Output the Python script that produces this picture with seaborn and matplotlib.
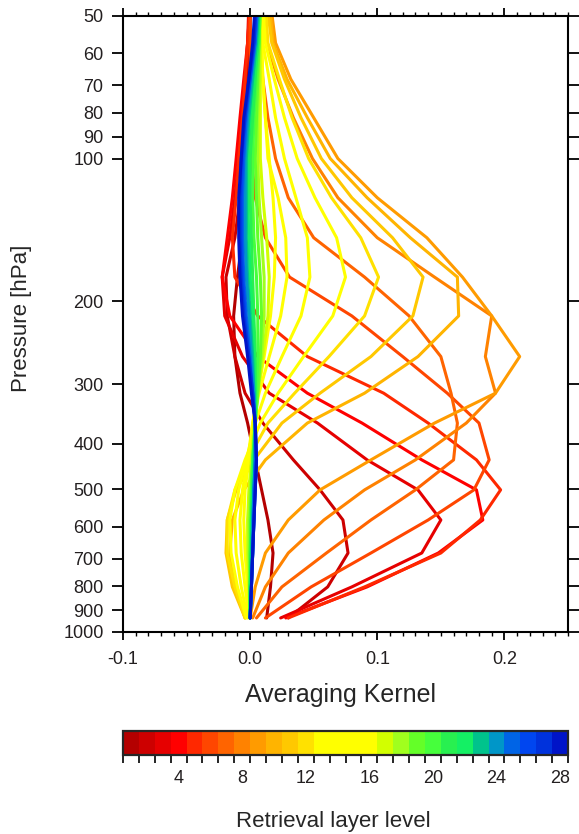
import numpy as np
import pandas as pd
import matplotlib
matplotlib.use("Agg")
import matplotlib.pyplot as plt
import seaborn as sns
from matplotlib.colors import ListedColormap, BoundaryNorm
from matplotlib.cm import ScalarMappable
from matplotlib.ticker import FixedLocator, FixedFormatter, NullLocator

# ---------------- data ----------------
pressure = [934, 803, 681, 580, 501, 433, 362, 313, 262, 215, 178, 147, 121, 100, 82, 68, 57, 47]

ak01 = [0.013, 0.016, 0.018, 0.014, 0.009, 0.004, -0.002, -0.008, -0.012, -0.013, -0.010, -0.006, -0.004, -0.003, -0.002, -0.001, 0.000, 0.000]
ak02 = [0.030, 0.061, 0.077, 0.073, 0.055, 0.034, 0.010, -0.004, -0.012, -0.018, -0.019, -0.012, -0.008, -0.005, -0.003, -0.002, -0.001, 0.000]
ak03 = [0.024, 0.080, 0.135, 0.150, 0.132, 0.092, 0.053, 0.015, -0.006, -0.020, -0.022, -0.016, -0.012, -0.009, -0.006, -0.004, -0.002, -0.001]
ak04 = [0.028, 0.092, 0.148, 0.183, 0.178, 0.135, 0.088, 0.045, 0.006, -0.016, -0.022, -0.018, -0.014, -0.011, -0.008, -0.005, -0.002, 0.000]
ak05 = [0.030, 0.090, 0.150, 0.181, 0.197, 0.178, 0.140, 0.105, 0.045, 0.006, -0.012, -0.014, -0.011, -0.009, -0.006, -0.004, -0.002, 0.000]
ak06 = [0.012, 0.048, 0.095, 0.140, 0.176, 0.188, 0.180, 0.155, 0.120, 0.080, 0.031, 0.012, 0.004, 0.001, 0.000, 0.000, 0.000, 0.000]
ak07 = [0.005, 0.025, 0.060, 0.095, 0.130, 0.160, 0.163, 0.158, 0.150, 0.125, 0.090, 0.050, 0.030, 0.020, 0.014, 0.010, 0.007, 0.006]
ak08 = [0.002, 0.012, 0.030, 0.058, 0.090, 0.130, 0.170, 0.193, 0.185, 0.190, 0.145, 0.100, 0.069, 0.049, 0.034, 0.022, 0.013, 0.010]
ak09 = [0.000, 0.004, 0.012, 0.030, 0.055, 0.095, 0.145, 0.193, 0.212, 0.190, 0.167, 0.139, 0.100, 0.069, 0.050, 0.032, 0.020, 0.016]
ak10 = [-0.004, -0.012, -0.016, -0.014, -0.005, 0.012, 0.045, 0.090, 0.132, 0.164, 0.163, 0.126, 0.092, 0.063, 0.045, 0.029, 0.018, 0.015]
ak11 = [-0.004, -0.014, -0.019, -0.018, -0.011, 0.003, 0.025, 0.055, 0.095, 0.128, 0.136, 0.112, 0.080, 0.056, 0.040, 0.027, 0.017, 0.013]
ak12 = [-0.004, -0.012, -0.018, -0.018, -0.012, -0.002, 0.014, 0.035, 0.062, 0.090, 0.101, 0.087, 0.064, 0.046, 0.033, 0.023, 0.014, 0.012]
ak13 = [-0.003, -0.010, -0.015, -0.016, -0.012, -0.004, 0.008, 0.022, 0.042, 0.065, 0.075, 0.068, 0.051, 0.037, 0.027, 0.019, 0.012, 0.010]
ak14 = [-0.002, -0.007, -0.011, -0.012, -0.009, -0.003, 0.004, 0.012, 0.025, 0.040, 0.047, 0.045, 0.036, 0.027, 0.020, 0.015, 0.010, 0.009]
ak15 = [-0.001, -0.004, -0.007, -0.008, -0.006, -0.002, 0.002, 0.007, 0.015, 0.024, 0.029, 0.028, 0.022, 0.014, 0.012, 0.010, 0.009, 0.008]
ak16 = [0.000, -0.002, -0.004, -0.005, -0.004, -0.001, 0.002, 0.006, 0.011, 0.016, 0.019, 0.020, 0.018, 0.015, 0.012, 0.010, 0.009, 0.008]
ak17 = [0.000, -0.001, -0.002, -0.002, -0.001, 0.001, 0.003, 0.006, 0.010, 0.014, 0.015, 0.013, 0.010, 0.008, 0.008, 0.008, 0.008, 0.008]
ak18 = [0.000, 0.000, -0.001, -0.001, 0.000, 0.002, 0.004, 0.006, 0.009, 0.011, 0.011, 0.009, 0.007, 0.006, 0.006, 0.007, 0.007, 0.008]
ak19 = [0.000, 0.000, 0.000, 0.000, 0.001, 0.002, 0.004, 0.006, 0.008, 0.009, 0.008, 0.006, 0.005, 0.004, 0.005, 0.006, 0.007, 0.008]
ak20 = [0.000, 0.000, 0.000, 0.001, 0.001, 0.002, 0.004, 0.005, 0.006, 0.006, 0.005, 0.003, 0.002, 0.002, 0.003, 0.005, 0.007, 0.008]
ak21 = [0.000, 0.000, 0.001, 0.001, 0.002, 0.003, 0.004, 0.004, 0.004, 0.003, 0.002, 0.001, 0.000, 0.000, 0.002, 0.004, 0.006, 0.007]
ak22 = [0.000, 0.000, 0.001, 0.001, 0.002, 0.003, 0.004, 0.004, 0.003, 0.002, 0.000, -0.001, -0.002, -0.002, 0.000, 0.003, 0.006, 0.007]
ak23 = [0.000, 0.001, 0.001, 0.002, 0.003, 0.004, 0.004, 0.003, 0.002, 0.000, -0.002, -0.003, -0.003, -0.003, -0.001, 0.002, 0.005, 0.007]
ak24 = [0.000, 0.001, 0.002, 0.002, 0.003, 0.004, 0.004, 0.003, 0.001, -0.001, -0.003, -0.004, -0.004, -0.004, -0.002, 0.001, 0.004, 0.006]
ak25 = [0.000, 0.001, 0.002, 0.003, 0.003, 0.004, 0.004, 0.002, 0.000, -0.003, -0.005, -0.006, -0.006, -0.005, -0.003, 0.000, 0.004, 0.006]
ak26 = [0.000, 0.001, 0.002, 0.003, 0.004, 0.005, 0.004, 0.002, -0.001, -0.004, -0.006, -0.007, -0.007, -0.006, -0.004, 0.000, 0.003, 0.005]
ak27 = [0.000, 0.001, 0.002, 0.003, 0.004, 0.005, 0.004, 0.002, -0.001, -0.005, -0.007, -0.008, -0.008, -0.007, -0.004, -0.001, 0.003, 0.005]
ak28 = [0.000, 0.001, 0.002, 0.003, 0.004, 0.005, 0.004, 0.001, -0.002, -0.006, -0.008, -0.009, -0.009, -0.007, -0.005, -0.001, 0.002, 0.004]

kernels = [ak01, ak02, ak03, ak04, ak05, ak06, ak07, ak08, ak09, ak10, ak11, ak12, ak13, ak14,
           ak15, ak16, ak17, ak18, ak19, ak20, ak21, ak22, ak23, ak24, ak25, ak26, ak27, ak28]
layers = list(range(1, 29))

layer_colors = ['#B40000', '#CD0000', '#E60000', '#FF0000', '#FF2800', '#FF4600', '#FF6400',
                '#FF8200', '#FF9B00', '#FFB400', '#FFC800', '#FFE100', '#FFFF00', '#FFFF00',
                '#FFFF00', '#FFFF00', '#D2FF00', '#A0FF1E', '#64FF28', '#46FF3C', '#28F050',
                '#14F064', '#00C38C', '#0096C8', '#0064E6', '#0046F0', '#0032DC', '#0014C8']

x_ticks = [-0.1, 0.0, 0.1, 0.2]
x_tick_labels = ["-0.1", "0.0", "0.1", "0.2"]
y_ticks = [50, 60, 70, 80, 90, 100, 200, 300, 400, 500, 600, 700, 800, 900, 1000]
cbar_ticks = [4, 8, 12, 16, 20, 24, 28]

rows = []
for k, vals in zip(layers, kernels):
    for p, v in zip(pressure, vals):
        rows.append({"layer": k, "pressure": p, "ak": v})
df = pd.DataFrame(rows)

# ---------------- plot ----------------
sns.set_style("ticks")
plt.rcParams['font.family'] = ['Liberation Sans', 'DejaVu Sans']
txt = '#231F20'
plt.rcParams['text.color'] = txt
plt.rcParams['xtick.color'] = 'black'
plt.rcParams['ytick.color'] = 'black'
plt.rcParams['xtick.labelcolor'] = txt
plt.rcParams['ytick.labelcolor'] = txt

fig = plt.figure(figsize=(5.79, 8.34), dpi=100)
ax = fig.add_axes([123/579, 1-632/834, 445/579, 616/834])

sns.lineplot(data=df, x="ak", y="pressure", hue="layer", hue_order=layers,
             palette=layer_colors, units="layer", estimator=None, sort=False,
             orient="y", legend=False, linewidth=2.2, ax=ax)

ax.set_yscale("log")
ax.set_ylim(1000, 50)
ax.set_xlim(-0.1, 0.25)
ax.yaxis.set_major_locator(FixedLocator(y_ticks))
ax.yaxis.set_major_formatter(FixedFormatter([str(t) for t in y_ticks]))
ax.yaxis.set_minor_locator(NullLocator())
ax.xaxis.set_major_locator(FixedLocator(x_ticks))
ax.xaxis.set_major_formatter(FixedFormatter(x_tick_labels))
ax.xaxis.set_minor_locator(FixedLocator(np.round(np.arange(-0.1, 0.2501, 0.01), 3)))

for s in ax.spines.values():
    s.set_visible(True)
    s.set_linewidth(1.5)
    s.set_color('black')

ax.tick_params(axis='x', which='both', top=True, bottom=True, direction='out')
ax.tick_params(axis='x', which='major', length=6, width=1.3, labelsize=13, pad=8)
ax.tick_params(axis='x', which='minor', length=3, width=1.0)
ax.tick_params(axis='y', which='major', left=True, right=True, direction='out',
               length=8, width=1.3, labelsize=13, pad=6)

ax.set_xlabel("Averaging Kernel", fontsize=18, va='center')
ax.xaxis.set_label_coords((340.5-123)/445, (632-695)/616)
ax.set_ylabel("Pressure [hPa]", fontsize=16, va='center')
ax.yaxis.set_label_coords((22-123)/445, (632-318)/616)

# ---------------- colorbar ----------------
cax = fig.add_axes([123/579, 1-755/834, 445/579, 24/834])
cmap = ListedColormap(layer_colors)
norm = BoundaryNorm(np.arange(0.5, 29.5, 1.0), cmap.N)
cb = fig.colorbar(ScalarMappable(norm=norm, cmap=cmap), cax=cax, orientation='horizontal')
cb.set_ticks(cbar_ticks)
cb.ax.xaxis.set_minor_locator(FixedLocator(np.arange(0.5, 29.0, 1.0)))
cb.ax.tick_params(which='major', length=0, labelsize=13, pad=11)
cb.ax.tick_params(which='minor', length=6, width=1.2, color='black')
cb.outline.set_linewidth(1.6)
cb.set_label("Retrieval layer level", fontsize=16, va='center')
cb.ax.xaxis.set_label_coords((333-123)/445, (755-821)/24)

fig.savefig("out.png", dpi=100)
